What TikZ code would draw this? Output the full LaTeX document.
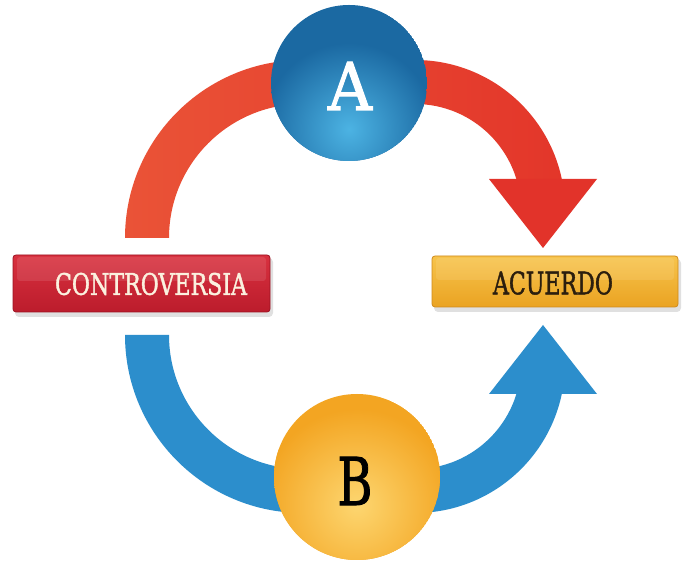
\documentclass[tikz,border=0pt]{standalone}
\usepackage{fontspec}
\usepackage{graphicx}
\newfontfamily\slab[FakeBold=1.6]{DejaVu Serif}
\definecolor{bandred}{HTML}{E3362A}
\definecolor{bandorange}{HTML}{EA5337}
\definecolor{arrowred}{HTML}{E2332A}
\definecolor{bandblue}{HTML}{2C8ECC}
\definecolor{Adark}{HTML}{1B69A2}
\definecolor{Alight}{HTML}{4CB3E3}
\definecolor{Bdark}{HTML}{F3A522}
\definecolor{Blight}{HTML}{FDD670}
\definecolor{ctop}{HTML}{D8313F}
\definecolor{cbot}{HTML}{BC1C2C}
\definecolor{cborder}{HTML}{9C1222}
\definecolor{ytop}{HTML}{F7C44C}
\definecolor{ybot}{HTML}{EAA322}
\definecolor{yborder}{HTML}{CF8A1C}
\definecolor{ctext}{HTML}{FBF1DF}
\definecolor{ytext}{HTML}{2B1E0E}
\tikzset{
  barshadow/.style={fill=black, opacity=0.12, rounded corners=4pt},
  gloss/.style={fill=white, opacity=0.10, rounded corners=3pt},
  lbl/.style={inner sep=0pt, font=\slab}
}
\begin{document}
\begin{tikzpicture}[x=1pt,y=1pt]
\useasboundingbox (0,0) rectangle (686,565);
\fill[white] (0,0) rectangle (686,565);

% red band (top)
\shade[left color=bandorange, right color=bandred]
  (125,327) arc[start angle=180,end angle=90,radius=178] -- (415,505)
  arc[start angle=90,end angle=0,radius=150] -- (521,355)
  arc[start angle=0,end angle=90,radius=106] -- (303,461)
  arc[start angle=90,end angle=180,radius=134] -- cycle;
\fill[arrowred] (489,386) -- (597,386) -- (543,317) -- cycle;

% blue band (bottom), mirror image
\begin{scope}[yshift=557pt, yscale=-1]
\fill[bandblue]
  (125,327) arc[start angle=180,end angle=90,radius=178] -- (415,505)
  arc[start angle=90,end angle=0,radius=150] -- (521,355)
  arc[start angle=0,end angle=90,radius=106] -- (303,461)
  arc[start angle=90,end angle=180,radius=134] -- cycle;
\fill[bandblue] (489,386) -- (597,386) -- (543,317) -- cycle;
\end{scope}

% sphere A
\begin{scope}
\clip (349,482) circle (78);
\fill[Adark] (349,482) circle (78);
\shade[inner color=Alight, outer color=Adark] (349,436) circle (86);
\end{scope}
\node[lbl, text=white] (A) at (350,479) {\resizebox{44pt}{48pt}{A}};

% sphere B
\begin{scope}
\clip (357,88) circle (83);
\fill[Bdark] (357,88) circle (83);
\shade[inner color=Blight, outer color=Bdark] (357,60) circle (96);
\end{scope}
\node[lbl, text=black] (B) at (355,84) {\resizebox{35pt}{48pt}{B}};

% CONTROVERSIA bar
\fill[barshadow] (15,248) rectangle (273,307);
\shade[top color=ctop, bottom color=cbot, rounded corners=3pt] (13,253) rectangle (270,310);
\fill[gloss] (17,284) rectangle (266,308);
\draw[cborder, line width=0.8pt, rounded corners=3pt] (13,253) rectangle (270,310);
\node[lbl, text=ctext] (C) at (151,281) {\resizebox{192pt}{22pt}{CONTROVERSIA}};

% ACUERDO bar
\fill[barshadow] (434,253) rectangle (681,306);
\shade[top color=ytop, bottom color=ybot, rounded corners=3pt] (432,258) rectangle (678,309);
\fill[gloss] (436,285) rectangle (674,307);
\draw[yborder, line width=0.8pt, rounded corners=3pt] (432,258) rectangle (678,309);
\node[lbl, text=ytext] (D) at (553,282) {\resizebox{120pt}{23pt}{ACUERDO}};
\end{tikzpicture}
\end{document}
